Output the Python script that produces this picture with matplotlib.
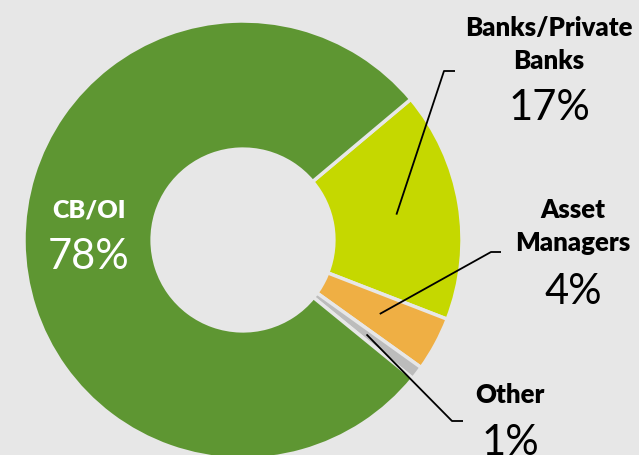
import matplotlib
matplotlib.use("Agg")
import matplotlib.pyplot as plt
import numpy as np

# investor split
labels = ["Banks/Private\nBanks", "Asset\nManagers", "Other", "CB/OI"]
shares = [17, 4, 1, 78]
colors = ["#c5d800", "#efaf44", "#bcbcbc", "#5e9632"]
bg = "#e7e7e7"

W, H = 639, 455
cx, cy, R = 243, 240, 219  # donut centre / radius in pixels


def px(x, y):
    # pixel (from top-left) -> data coords, 1 data unit = outer radius
    return (x - cx) / R, (cy - y) / R


fig = plt.figure(figsize=(W / 100, H / 100), dpi=100)
fig.patch.set_facecolor(bg)
ax = fig.add_axes([0, 0, 1, 1])
ax.set_facecolor(bg)

wedges, _ = ax.pie(shares, colors=colors, startangle=40, counterclock=False,
                   radius=1.0, wedgeprops=dict(width=0.585, edgecolor=bg, linewidth=2.5))

x0, y0 = px(0, H)
x1, y1 = px(W, 0)
ax.set_xlim(x0, x1)
ax.set_ylim(y0, y1)
ax.set_aspect("equal")
ax.axis("off")

fam = ["Lato", "DejaVu Sans"]

# label anchor (centre of text block), elbow, end of leader
label_pos = [(549, 44), (573, 226), (510, 395)]
pct_pos = [(549, 108), (573, 292), (510, 443)]
elbows = [((444, 71), (455, 71)), ((491, 252), (501, 252)), ((452, 421), (463, 421))]

for i in range(3):
    w = wedges[i]
    mid = np.deg2rad((w.theta1 + w.theta2) / 2)
    sx, sy = 0.71 * np.cos(mid), 0.71 * np.sin(mid)
    (ex, ey), (fx, fy) = elbows[i]
    p1 = px(ex, ey)
    p2 = px(fx, fy)
    ax.plot([sx, p1[0], p2[0]], [sy, p1[1], p2[1]], color="black", lw=1.3,
            solid_capstyle="butt")
    lx, ly = px(*label_pos[i])
    ax.text(lx, ly, labels[i], ha="center", va="center", fontsize=18.5,
            fontweight="heavy", family=fam, linespacing=1.45, color="black")
    qx, qy = px(*pct_pos[i])
    ax.text(qx, qy, f"{shares[i]}%", ha="center", va="center", fontsize=30,
            family=fam, color="black")

# inside label for the big slice
tx, ty = px(89, 210)
ax.text(tx, ty, "CB/OI", ha="center", va="center", fontsize=18,
        fontweight="heavy", family=fam, color="white")
tx, ty = px(89, 257)
ax.text(tx, ty, f"{shares[3]}%", ha="center", va="center", fontsize=30,
        family=fam, color="white")

fig.savefig("out.png", dpi=100, facecolor=bg)
